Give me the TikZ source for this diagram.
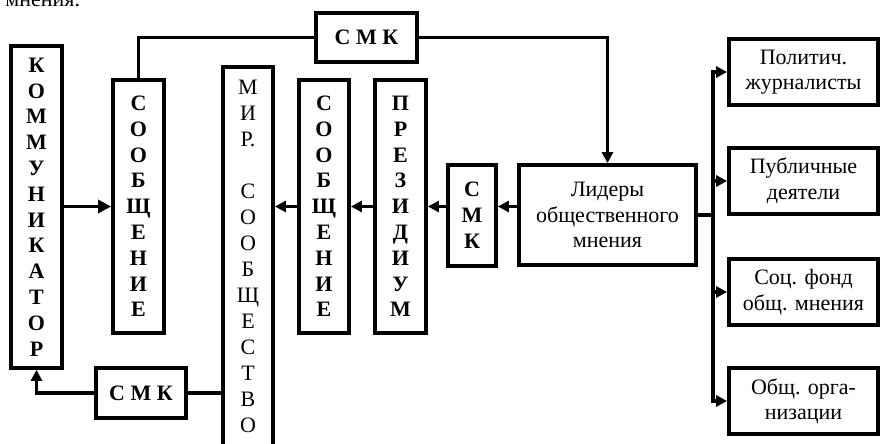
\documentclass[tikz,border=0pt]{standalone}
\usepackage{fontspec}
\setmainfont{Liberation Serif}
\usetikzlibrary{arrows.meta}

\begin{document}
\begin{tikzpicture}[x=1pt, y=-1pt, >={Triangle[length=11pt,width=11pt]},
		every node/.style={draw, line width=3.8pt, inner sep=0pt, align=center, font=\fontsize{22}{25.5}\selectfont},
		bold/.style={font=\fontsize{22}{25.8}\selectfont\bfseries},
		plain/.style={draw=none},
		link/.style={line width=3.8pt}]
		\useasboundingbox (0,0) rectangle (881,444);

		\path (82,7) node[plain, anchor=base east] (prev) {мнения.}
		(36.5,207) node[bold, minimum width=51pt, minimum height=322pt] (komm) {К\\О\\М\\М\\У\\Н\\И\\К\\А\\Т\\О\\Р}
		(138.5,206.5) node[bold, minimum width=51pt, minimum height=253pt] (msg1) {С\\О\\О\\Б\\Щ\\Е\\Н\\И\\Е}
		(248,64.75) node[anchor=north, minimum width=50pt, minimum height=420pt] (mir) {}
		(248,78) node[plain, anchor=north, font=\fontsize{22}{26}\selectfont] (mirtext) {М\\И\\Р.\\[26pt]С\\О\\О\\Б\\Щ\\Е\\С\\Т\\В\\О}
		(324,206.5) node[bold, minimum width=50pt, minimum height=253pt] (msg2) {С\\О\\О\\Б\\Щ\\Е\\Н\\И\\Е}
		(400.5,206.5) node[bold, minimum width=51pt, minimum height=253pt] (prez) {П\\Р\\Е\\З\\И\\Д\\И\\У\\М}
		(472,215.5) node[bold, minimum width=48pt, minimum height=101pt] (smk2) {С\\М\\К}
		(607.5,215) node[minimum width=177pt, minimum height=100pt] (lid) {Лидеры\\общественного\\мнения}
		(366.5,37.5) node[bold, minimum width=101pt, minimum height=49pt] (smk1) {С М К}
		(141,393) node[bold, minimum width=90pt, minimum height=50pt] (smk3) {С М К}
		(803.5,72) node[minimum width=149pt, minimum height=66pt] (pol) {Политич.\\журналисты}
		(803.5,181) node[minimum width=149pt, minimum height=66pt] (pub) {Публичные\\деятели}
		(803.5,292) node[minimum width=149pt, minimum height=66pt] (soc) {Соц. фонд\\общ. мнения}
		(803.5,401) node[minimum width=149pt, minimum height=66pt] (org) {Общ. орга-\\низации};

		\coordinate (jt) at (713,215);

		\draw[link, -{Triangle[length=13pt,width=13pt]}] (komm.east |- msg1) -- (msg1.west);
		\draw[link, ->] (msg2.west) -- (msg2.west -| mir.east);
		\draw[link, ->] (prez.west) -- (msg2.east);
		\draw[link, ->] (smk2.west |- prez) -- (prez.east);
		\draw[link, ->] (lid.west |- prez) -- (smk2.east |- prez);
		\draw[link] (msg1.north) |- (smk1.west);
		\draw[link, ->] (smk1.east) -| (lid.north);
		\draw[link] (mir.west |- smk3) -- (smk3.east);
		\draw[link, ->] (smk3.west) -| (komm.south);
		\draw[link] (lid.east) -- (jt);
		\draw[link, ->] (jt) |- (pol.west);
		\draw[link, ->] (jt) |- (pub.west);
		\draw[link, ->] (jt) |- (soc.west);
		\draw[link, ->] (jt) |- (org.west);

	\end{tikzpicture}
\end{document}
